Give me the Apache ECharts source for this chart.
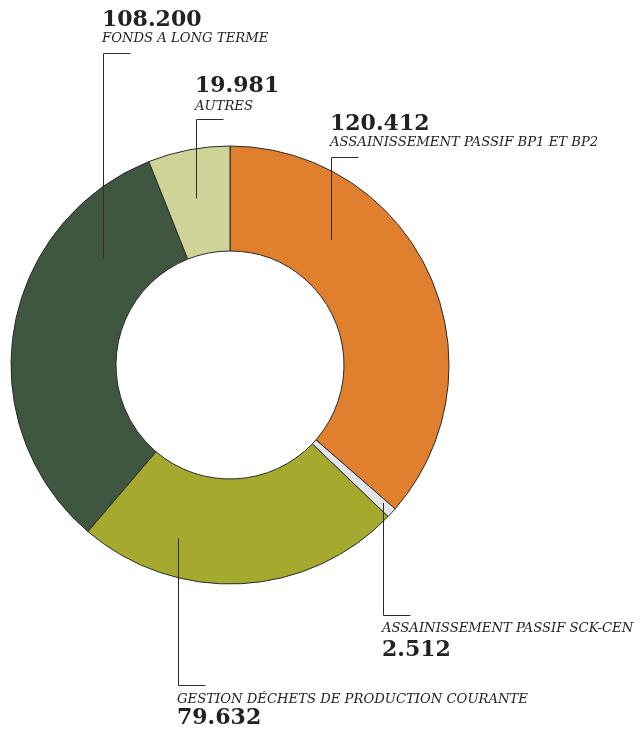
<!DOCTYPE html>
<html>
<head>
<meta charset="utf-8">
<script src="https://cdn.jsdelivr.net/npm/echarts@6/dist/echarts.min.js"></script>
<style>
  html, body { margin: 0; padding: 0; background: #fff; }
  #main { width: 640px; height: 733px; }
</style>
</head>
<body>
<div id="main"></div>
<script>
// donnees
var categories = ['ASSAINISSEMENT PASSIF BP1 ET BP2', 'ASSAINISSEMENT PASSIF SCK-CEN', 'GESTION DÉCHETS DE PRODUCTION COURANTE', 'FONDS A LONG TERME', 'AUTRES'];
var values = [120.412, 2.512, 79.632, 108.200, 19.981];
var valueLabels = ['120.412', '2.512', '79.632', '108.200', '19.981'];
var colors = ['#E07F2E', '#E3E5E8', '#A5AA2E', '#3F5740', '#D0D397'];

(function () {
    var chart = echarts.init(document.getElementById('main'));
    var cx = 230, cy = 365, rIn = 114, rOut = 219;

    // ancre de chaque ligne de rappel : angle (depuis le haut, sens horaire), rayon, y du coude
    var anchors = [
        { ang: 39, r: 161, elbowY: 157, numY: 124.5, txtY: 143 },
        { ang: 132, r: 206, elbowY: 615, numY: 650.5, txtY: 628.5 },
        { ang: 196.7, r: 181, elbowY: 685, numY: 718.5, txtY: 700 },
        { ang: 310, r: 166, elbowY: 53, numY: 20.5, txtY: 38.5 },
        { ang: 348.5, r: 170, elbowY: 119, numY: 86.5, txtY: 106.5 }
    ];

    var graphics = [];
    anchors.forEach(function (a, i) {
        var t = a.ang * Math.PI / 180;
        var x = Math.round(cx + a.r * Math.sin(t)) + 0.5;
        var y = cy - a.r * Math.cos(t);
        graphics.push({
            type: 'polyline', silent: true, z: 100,
            shape: { points: [[x, y], [x, a.elbowY + 0.5], [x + 27, a.elbowY + 0.5]] },
            style: { stroke: '#2a2a2a', lineWidth: 1, fill: null }
        });
        var tx = x - 1.5;
        graphics.push({
            type: 'text', silent: true, z: 100, x: tx, y: a.numY,
            style: { text: valueLabels[i], fill: '#222', font: 'bold 22px "DejaVu Serif", serif', textVerticalAlign: 'middle', textAlign: 'left' }
        });
        graphics.push({
            type: 'text', silent: true, z: 100, x: tx, y: a.txtY,
            style: { text: categories[i], fill: '#222', font: 'italic 13.2px "DejaVu Serif", serif', textVerticalAlign: 'middle', textAlign: 'left' }
        });
    });

    var option = {
        animation: false,
        color: colors,
        series: [{
            type: 'pie',
            z: 1,
            center: [cx, cy],
            radius: [rIn, rOut],
            startAngle: 90,
            clockwise: true,
            label: { show: false },
            labelLine: { show: false },
            itemStyle: { borderColor: '#2b2b2b', borderWidth: 1 },
            emphasis: { disabled: true },
            data: categories.map(function (c, i) {
                return { name: c, value: values[i] };
            })
        }],
        graphic: { elements: graphics }
    };

    chart.setOption(option);
})();
</script>
</body>
</html>
